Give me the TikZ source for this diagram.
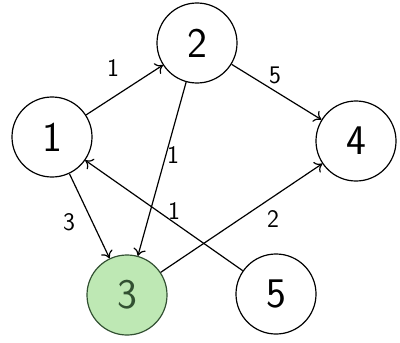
\documentclass[tikz,border=0pt]{standalone}
\usetikzlibrary{arrows.meta}
\definecolor{leafgreen}{RGB}{190,232,180}
\definecolor{darkleaf}{RGB}{50,80,50}
\begin{document}
\begin{tikzpicture}[x=0.025cm, y=-0.025cm, line width=0.85pt,
  vert/.style={circle, draw, minimum size=2cm, inner sep=0pt, font=\sffamily\fontsize{30}{30}\selectfont},
  wt/.style={font=\sffamily\fontsize{18}{18}\selectfont},
  >={To[length=5pt, width=9pt]}]
\useasboundingbox (0,0) rectangle (400,342);
\node[vert] (n1) at (52,137) {1};
\node[vert] (n2) at (197,43) {2};
\node[vert] (n4) at (356,141) {4};
\node[vert, fill=leafgreen, draw=darkleaf, text=darkleaf] (n3) at (127,295) {3};
\node[vert] (n5) at (276,294) {5};
% edges
\draw[->] (n1) -- (n2);
\draw[->] (n2) -- (n4);
\draw[->] (n2) -- (n3);
\draw[->] (n1) -- (n3);
\draw[->] (n5) -- (n1);
\draw[->] (n3) -- (n4);
% weights
\node[wt] (w12) at (113,68) {1};
\node[wt] (w24) at (275,75) {5};
\node[wt] (w23) at (173,155) {1};
\node[wt] (w13) at (69,222) {3};
\node[wt] (w51) at (174,211) {1};
\node[wt] (w34) at (273,219) {2};
\end{tikzpicture}
\end{document}
